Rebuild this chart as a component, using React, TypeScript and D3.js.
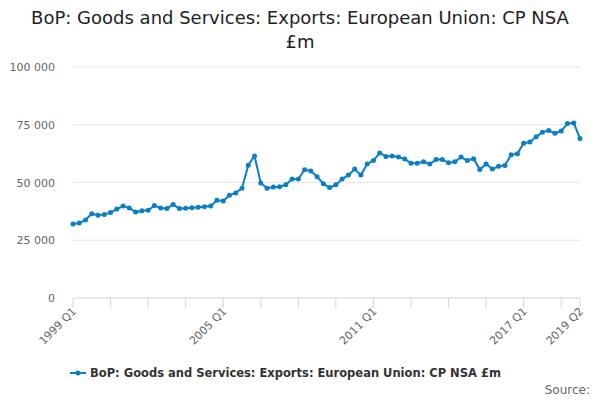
import * as d3 from 'd3';
import React from 'react';

const values = [
  32000, 32500, 33800, 36500, 35800, 36200, 37000, 38500, 39800, 39000, 37200, 37800,
  38000, 40000, 39000, 38700, 40500, 38700, 38900, 39100, 39300, 39500, 39800, 42300,
  42000, 44500, 45500, 47500, 57500, 61500, 49800, 47500, 48000, 48200, 49000, 51500,
  51500, 55500, 55000, 52500, 49500, 47800, 49000, 51500, 53200, 55800, 53200, 58000,
  59500, 62800, 61300, 61500, 61000, 60200, 58300, 58300, 59000, 58000, 60000, 60000,
  58500, 59000, 61000, 59500, 60300, 55600, 58000, 55800, 57000, 57400, 62000, 62500,
  67000, 67500, 69800, 71800, 72500, 71300, 72300, 75500, 75800, 69000,
];
const labels = values.map((_, i) => `${1999 + Math.floor(i / 4)} Q${(i % 4) + 1}`);
const shownLabels = ['1999 Q1', '2005 Q1', '2011 Q1', '2017 Q1', '2019 Q2'];
const yTicks = [0, 25000, 50000, 75000, 100000];
const title = ['BoP: Goods and Services: Exports: European Union: CP NSA', '£m'];
const seriesName = 'BoP: Goods and Services: Exports: European Union: CP NSA £m';

const color = '#0b7fc4';
const font = 'DejaVu Sans, sans-serif';

export default function App() {
  const margin = { left: 73, right: 20, top: 67, bottom: 102 };
  const width = 600, height = 400;
  const x = d3.scaleLinear().domain([0, values.length - 1]).range([margin.left, 580]);
  const y = d3.scaleLinear().domain([0, 100000]).range([298, 67]);
  const line = d3.line<number>().x((_, i) => x(i)).y((d) => y(d));
  const fmt = (v: number) => d3.format(',')(v).replace(/,/g, ' ');
  const tickIdx = d3.range(0, values.length, 6).concat([values.length - 1]);

  return (
    <svg width={width} height={height} style={{ position: 'absolute', left: 0, top: 0, fontFamily: font }}>
      {title.map((t, i) => (
        <text key={i} x={300} y={24 + i * 24} textAnchor="middle" fontSize={18} fill="#222">{t}</text>
      ))}
      {yTicks.map((t) => (
        <g key={t}>
          <line x1={margin.left} x2={580} y1={y(t)} y2={y(t)} stroke={t === 0 ? '#ccd6eb' : '#e6e6e6'} />
          <text x={55} y={y(t) + 4} textAnchor="end" fontSize={11} fill="#666">{fmt(t)}</text>
        </g>
      ))}
      {tickIdx.map((i) => (
        <line key={i} x1={x(i)} x2={x(i)} y1={298} y2={308} stroke="#ccd6eb" />
      ))}
      {labels.map((l, i) =>
        shownLabels.includes(l) ? (
          <text key={l} transform={`translate(${x(i) + 4},${312}) rotate(-45)`} textAnchor="end" fontSize={11} fill="#666">{l}</text>
        ) : null
      )}
      <path d={line(values) ?? ''} fill="none" stroke={color} strokeWidth={2} />
      {values.map((v, i) => (
        <circle key={i} cx={x(i)} cy={y(v)} r={2.5} fill={color} />
      ))}
      <line x1={70} x2={86} y1={373} y2={373} stroke={color} strokeWidth={2} />
      <circle cx={78} cy={373} r={2.5} fill={color} />
      <text x={90} y={377} fontSize={11.5} fontWeight="bold" fill="#333">{seriesName}</text>
      <text x={590} y={394} textAnchor="end" fontSize={12} fill="#666">Source:</text>
    </svg>
  );
}
